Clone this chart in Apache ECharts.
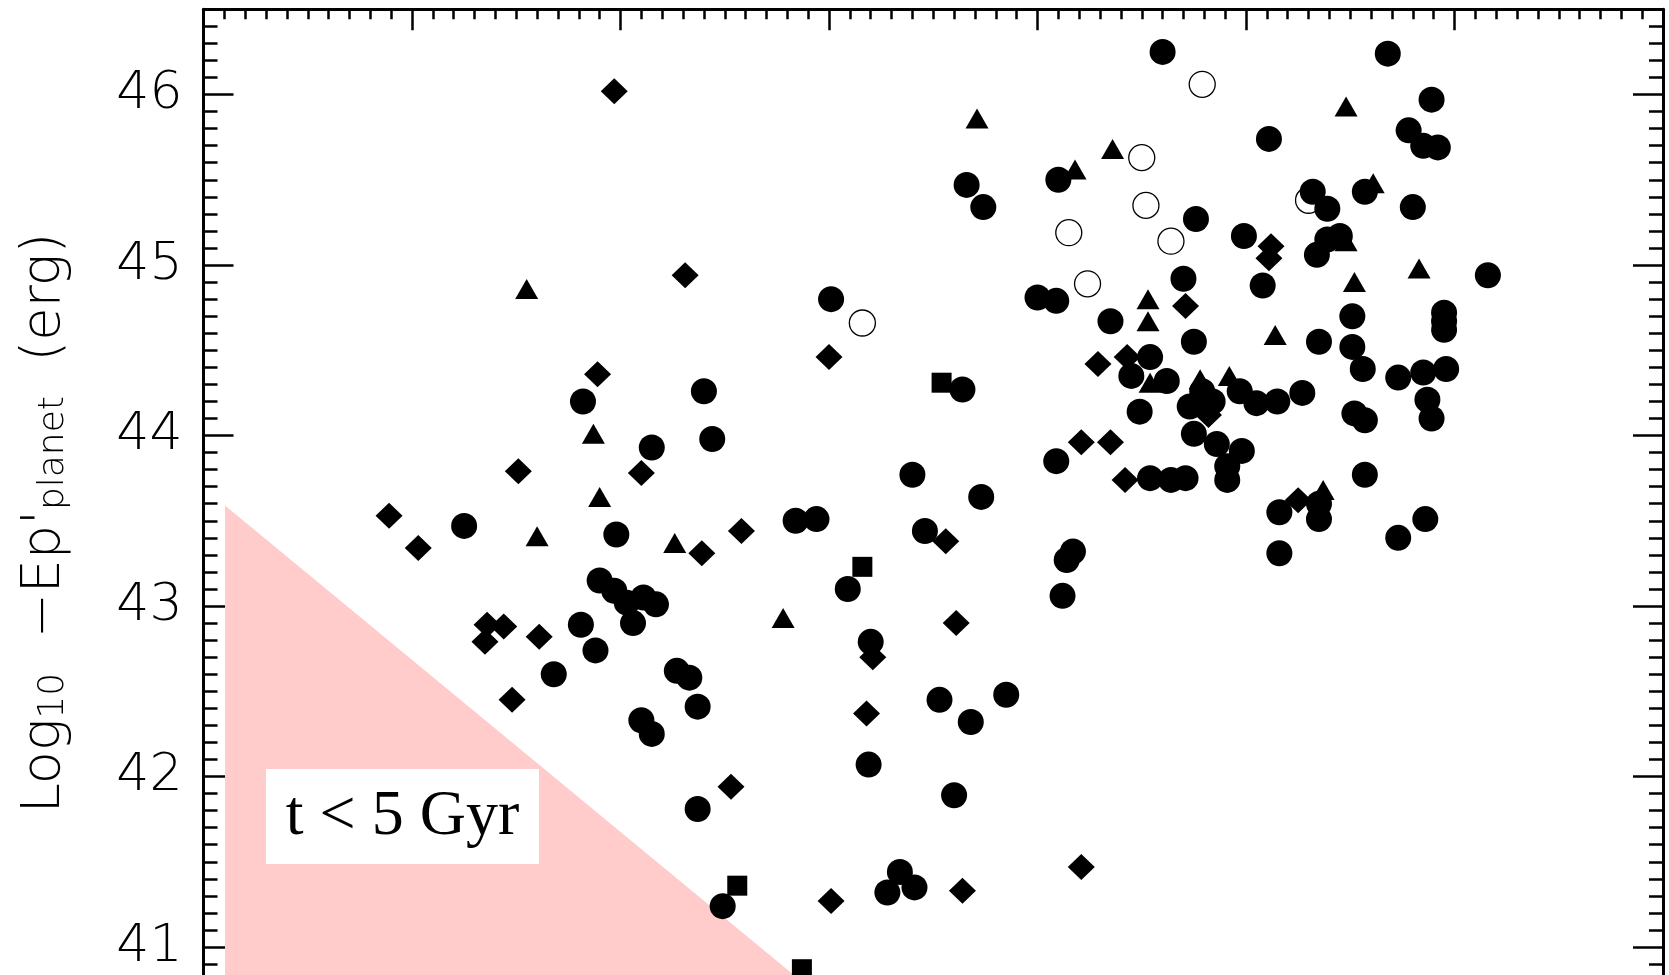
<!DOCTYPE html>
<html><head><meta charset="utf-8">
<script src="https://cdn.jsdelivr.net/npm/echarts/dist/echarts.min.js"></script>
<style>html,body{margin:0;padding:0;background:#fff}#c{width:1669px;height:975px}</style>
</head><body><div id="c"></div>
<script>
// Values (x axis in unlabeled major-tick units, y = Log10 -Ep'planet)
const yTickValues = [41, 42, 43, 44, 45, 46];
const filledCircles = [[1.82,44.20],[2.40,44.26],[2.15,43.93],[2.44,43.98],[4.60,46.25],[4.10,45.50],[3.66,45.47],[3.74,45.34],[4.76,45.27],[3.01,44.80],[4.00,44.81],[4.09,44.79],[4.70,44.92],[4.35,44.67],[3.64,44.27],[4.54,44.46],[4.45,44.35],[4.62,44.32],[4.75,44.55],[4.49,44.14],[4.75,44.01],[4.09,43.85],[3.40,43.77],[3.73,43.64],[4.54,43.75],[4.64,43.74],[4.71,43.75],[5.68,46.24],[5.89,45.97],[5.11,45.74],[5.78,45.79],[5.85,45.70],[5.92,45.69],[5.32,45.43],[5.39,45.33],[5.57,45.43],[5.80,45.34],[4.99,45.17],[5.39,45.15],[5.45,45.17],[5.34,45.06],[5.08,44.88],[6.16,44.94],[5.51,44.70],[5.95,44.72],[5.95,44.67],[5.95,44.62],[5.35,44.55],[5.51,44.52],[5.56,44.39],[5.73,44.34],[5.85,44.37],[5.96,44.39],[4.79,44.26],[4.84,44.20],[4.73,44.17],[4.97,44.26],[5.05,44.19],[5.15,44.20],[5.27,44.25],[5.52,44.13],[5.57,44.09],[5.87,44.21],[5.89,44.10],[4.86,43.95],[4.98,43.91],[4.91,43.82],[4.91,43.74],[5.57,43.77],[5.16,43.55],[5.35,43.60],[5.35,43.51],[5.16,43.31],[5.73,43.40],[5.86,43.51],[1.25,43.47],[1.98,43.42],[1.90,43.15],[1.97,43.09],[2.03,43.02],[2.11,43.05],[2.17,43.01],[2.06,42.90],[1.81,42.89],[1.88,42.74],[1.68,42.60],[2.27,42.62],[2.33,42.58],[2.37,42.41],[2.10,42.33],[2.15,42.25],[2.37,41.81],[2.84,43.50],[2.94,43.51],[3.46,43.44],[3.09,43.10],[4.17,43.32],[4.14,43.27],[4.12,43.06],[3.20,42.79],[3.53,42.45],[3.68,42.32],[3.85,42.48],[3.19,42.07],[3.60,41.89],[3.34,41.44],[3.28,41.32],[3.41,41.35],[2.49,41.24]];
const openCircles = [[4.50,45.63],[4.52,45.35],[4.15,45.19],[4.64,45.14],[4.24,44.89],[3.16,44.66],[4.79,46.06],[5.30,45.38]];
const diamonds = [[1.97,46.02],[2.31,44.94],[1.89,44.36],[1.51,43.79],[2.10,43.78],[3.00,44.46],[4.29,44.42],[4.43,44.46],[4.21,43.96],[4.35,43.96],[4.42,43.74],[5.12,45.11],[5.11,45.04],[4.71,44.76],[4.82,44.12],[5.25,43.62],[0.89,43.53],[1.03,43.34],[1.36,42.89],[1.44,42.88],[1.35,42.79],[1.61,42.82],[1.48,42.45],[2.39,43.31],[2.58,43.44],[3.56,43.38],[3.61,42.90],[3.21,42.70],[3.18,42.37],[2.53,41.94],[4.21,41.47],[3.64,41.33],[3.01,41.27]];
const triangles = [[1.55,44.86],[1.87,44.01],[1.90,43.64],[1.60,43.41],[2.26,43.37],[2.78,42.93],[3.71,45.86],[4.36,45.68],[4.18,45.56],[4.53,44.80],[4.53,44.67],[4.54,44.31],[5.48,45.93],[5.61,45.48],[5.48,45.14],[5.52,44.90],[5.83,44.98],[5.14,44.59],[4.92,44.35],[4.78,44.33],[5.37,43.68]];
const squares = [[3.54,44.31],[3.16,43.23],[2.56,41.36],[2.87,40.87]];
// shaded "t < 5 Gyr" region (data coordinates)
const youngRegion = [[0.103,43.59],[3.66,40.0],[0.103,40.0]];
const regionLabel = 't < 5 Gyr';

const chart = echarts.init(document.getElementById('c'), null, {renderer:'canvas'});
const black = '#000';
const thinFont = '"DejaVu Sans", Roboto, sans-serif';
const tickStyle = {color: black, width: 2.5};
const yBase = {type:'value', min:40, max:46.5, splitLine:{show:false}, minorSplitLine:{show:false}};
const integerLabel = v => {
  const r = Math.round(v);
  return (Math.abs(v - r) < 1e-6 && yTickValues.indexOf(r) >= 0) ? String(r) : '';
};
const solid = {color: black, opacity: 1};
const option = {
  animation: false,
  backgroundColor: '#fff',
  grid: {left: 203.5, top: 9.3, width: 1459.5, height: 1108.25, containLabel: false, outerBoundsMode: 'none'},
  xAxis: {
    type:'value', position:'top', min:0, max:7, interval:1,
    axisLine:{show:true, onZero:false, lineStyle:{color:black, width:3}},
    axisTick:{show:true, inside:true, length:21, lineStyle:tickStyle},
    minorTick:{show:true, splitNumber:10, length:10, lineStyle:tickStyle},
    axisLabel:{show:false}, splitLine:{show:false}, minorSplitLine:{show:false}
  },
  yAxis: [
    Object.assign({}, yBase, {position:'left', interval:0.1,
      axisLine:{show:true, onZero:false, lineStyle:{color:black, width:3}},
      axisTick:{show:true, inside:true, length:14, lineStyle:tickStyle},
      axisLabel:{show:true, formatter: integerLabel, color:black, fontFamily:thinFont, fontWeight:200, fontSize:52, margin:21}
    }),
    Object.assign({}, yBase, {position:'left', interval:1,
      axisLine:{show:false}, axisTick:{show:true, inside:true, length:30, lineStyle:tickStyle}, axisLabel:{show:false}
    }),
    Object.assign({}, yBase, {position:'right', interval:0.1,
      axisLine:{show:true, onZero:false, lineStyle:{color:black, width:3}},
      axisTick:{show:true, inside:true, length:14, lineStyle:tickStyle}, axisLabel:{show:false}
    }),
    Object.assign({}, yBase, {position:'right', interval:1,
      axisLine:{show:false}, axisTick:{show:true, inside:true, length:30, lineStyle:tickStyle}, axisLabel:{show:false}
    })
  ],
  series: [
    {type:'custom', silent:true, clip:false, z:1, data:[[0,40]],
      renderItem:(params, api) => ({type:'polygon', shape:{points: youngRegion.map(p => api.coord(p))}, style:{fill:'#ffcbcb'}})
    },
    {type:'scatter', data: openCircles, symbol:'circle', symbolSize:26, z:2,
      itemStyle:{color:'#fff', opacity:1, borderColor:black, borderWidth:1.3}},
    {type:'scatter', data: filledCircles, symbol:'circle', symbolSize:26, z:3, itemStyle:solid},
    {type:'scatter', data: diamonds, symbol:'diamond', symbolSize:[27,26], z:3, itemStyle:solid},
    {type:'scatter', data: triangles, symbol:'triangle', symbolSize:[23,20], z:3, itemStyle:solid},
    {type:'scatter', data: squares, symbol:'rect', symbolSize:20, z:3, itemStyle:solid}
  ],
  graphic: [
    {type:'rect', z:100, shape:{x:266, y:769, width:273, height:95}, style:{fill:'#fff'}},
    {type:'text', z:101, x:402.5, y:817, style:{text: regionLabel, fontFamily:'Liberation Serif', fontSize:64, fill:black,
      textAlign:'center', textVerticalAlign:'middle', align:'center', verticalAlign:'middle'}},
    {type:'text', z:101, x:45, y:523, rotation: Math.PI/2, style:{
      text:'{m|Log}{s|10}{m|  \u2212Ep\'}{s|planet}{m|  (erg)}',
      fill:black, textAlign:'center', textVerticalAlign:'middle', align:'center', verticalAlign:'middle',
      rich:{
        m:{fontFamily:thinFont, fontWeight:200, fontSize:54, lineHeight:54, verticalAlign:'bottom', fill:black, color:black},
        s:{fontFamily:thinFont, fontWeight:200, fontSize:36, lineHeight:21, verticalAlign:'bottom', fill:black, color:black}
      }}}
  ]
};
chart.setOption(option);
</script></body></html>
